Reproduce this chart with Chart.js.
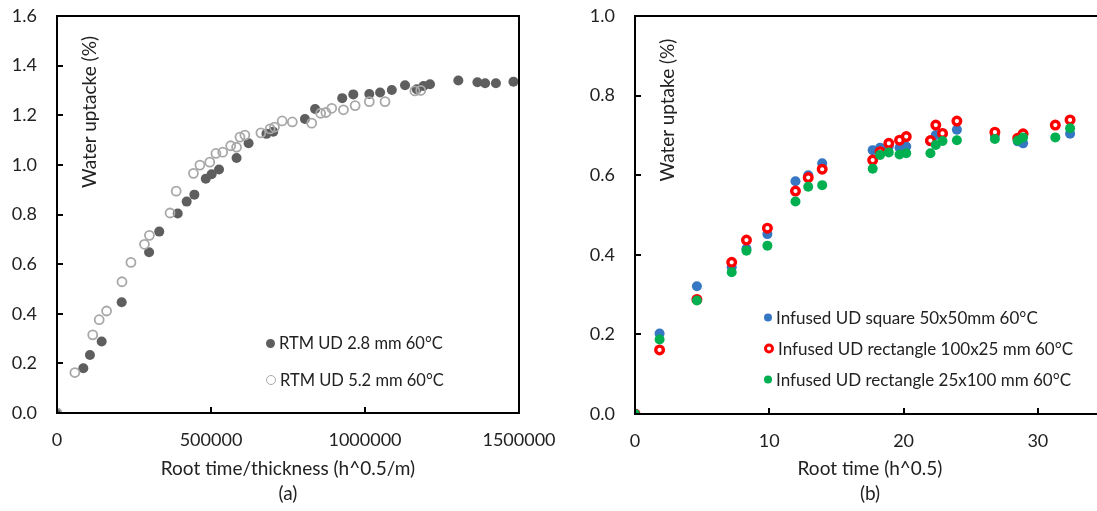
<!DOCTYPE html>
<html>
<head>
<meta charset="utf-8">
<script src="https://cdn.jsdelivr.net/npm/chart.js@4.4.1/dist/chart.umd.min.js"></script>
<style>
  html, body { margin: 0; padding: 0; background: #fff; }
  #wrap { position: relative; width: 1097px; height: 511px; overflow: hidden; font-family: Lato, "Open Sans", sans-serif; color: #222; }
  canvas { position: absolute; top: 0; z-index: 1; }
  .box { position: absolute; box-sizing: border-box; border: 2px solid #000; z-index: 5; pointer-events: none; }
  .tk { position: absolute; background: #000; z-index: 5; }
  .ytitle { position: absolute; transform: translate(-50%, -50%) rotate(-90deg); white-space: nowrap; font-size: 19px; z-index: 6; }
  .legend { position: absolute; font-size: 16.5px; z-index: 6; }
  .legend .row { display: flex; align-items: center; white-space: nowrap; position: absolute; left: 0; transform: translateY(-50%); }
  .mk { display: inline-block; border-radius: 50%; box-sizing: border-box; margin-right: 4px; }
</style>
</head>
<body>
<div id="wrap">
  <canvas id="chartA" width="560" height="511" style="left:0"></canvas>
  <canvas id="chartB" width="560" height="511" style="left:560px"></canvas>
  <div class="ytitle" style="left:88px; top:112px">Water uptacke (%)</div>
  <div class="ytitle" style="left:666px; top:110px">Water uptake (%)</div>
  <div class="legend" id="legendA" style="left:266px; top:0"></div>
  <div class="legend" id="legendB" style="left:764px; top:0; font-size:17px"></div>
</div>
<script>
// (a) RTM UD 2.8 mm 60°C
const thinX = [0, 85500, 107000, 145000, 210000, 299000, 332000, 392000, 421000, 446000, 483000, 502000, 526000, 583000, 622000, 680000, 702000, 805000, 838000, 926000, 962000, 1014000, 1049000, 1087000, 1130000, 1168000, 1190000, 1211000, 1303000, 1365000, 1390000, 1425000, 1482000];
const thinY = [0, 0.180, 0.234, 0.288, 0.446, 0.648, 0.731, 0.804, 0.852, 0.880, 0.944, 0.962, 0.981, 1.028, 1.087, 1.125, 1.134, 1.185, 1.225, 1.269, 1.284, 1.286, 1.292, 1.302, 1.321, 1.305, 1.318, 1.325, 1.340, 1.333, 1.329, 1.329, 1.335];

// (a) RTM UD 5.2 mm 60°C
const thickX = [0, 58000, 116000, 137000, 161000, 211000, 240000, 284000, 300000, 367000, 387000, 443000, 464000, 496000, 516000, 538000, 564000, 583000, 594000, 610000, 662000, 692000, 706000, 731000, 764000, 827000, 856000, 873000, 892000, 930000, 968000, 1014000, 1065000, 1162000, 1181000];
const thickY = [0, 0.163, 0.315, 0.376, 0.411, 0.529, 0.607, 0.680, 0.716, 0.806, 0.894, 0.966, 0.999, 1.011, 1.046, 1.051, 1.077, 1.071, 1.112, 1.120, 1.129, 1.145, 1.152, 1.177, 1.173, 1.168, 1.208, 1.211, 1.228, 1.222, 1.239, 1.255, 1.255, 1.298, 1.300];

// (b) root time (h^0.5) and the three infused panels
const rootTime = [0, 1.83, 4.61, 7.2, 8.3, 9.86, 11.95, 12.9, 13.94, 17.7, 18.25, 18.9, 19.7, 20.2, 22.0, 22.4, 22.9, 23.97, 26.8, 28.5, 28.9, 31.3, 32.4];
const squareY = [0, 0.202, 0.321, 0.369, 0.415, 0.452, 0.585, 0.600, 0.630, 0.663, 0.669, 0.672, 0.669, 0.672, 0.685, 0.701, 0.705, 0.714, 0.701, 0.685, 0.680, 0.726, 0.704];
const rect100x25Y = [0, 0.161, 0.288, 0.381, 0.437, 0.467, 0.560, 0.594, 0.615, 0.638, 0.659, 0.680, 0.688, 0.697, 0.687, 0.726, 0.705, 0.736, 0.708, 0.693, 0.704, 0.726, 0.739];
const rect25x100Y = [0, 0.187, 0.285, 0.356, 0.410, 0.423, 0.534, 0.571, 0.575, 0.616, 0.651, 0.657, 0.652, 0.655, 0.655, 0.676, 0.686, 0.688, 0.691, 0.687, 0.695, 0.695, 0.718];

const FONT = "Lato, 'Open Sans', sans-serif";
const TEXT = "#222";
const AXIS_BORDER = { display: true, color: "#000", width: 2 };

function toPoints(xs, ys) {
  return xs.map((x, i) => ({ x: x, y: ys[i] }));
}

// 上と右の枠線用の補助軸
function edgeAxis(position) {
  return {
    type: "linear",
    position: position,
    min: 0,
    max: 1,
    grid: { display: false, drawTicks: false },
    border: AXIS_BORDER,
    ticks: { display: false },
    afterFit: s => {
      if (position === "top") s.height = 0; else s.width = 0;
    }
  };
}

function makeOptions(cfg) {
  const scales = {
    x: {
      type: "linear",
      min: 0,
      max: cfg.xMax,
      grid: { display: false, drawTicks: false },
      border: AXIS_BORDER,
      ticks: {
        stepSize: cfg.xStep,
        padding: 16,
        color: TEXT,
        font: { family: FONT, size: 18 },
        callback: v => (v % cfg.xStep === 0 ? String(v) : null)
      },
      title: {
        display: true,
        text: cfg.xTitle,
        color: TEXT,
        font: { family: FONT, size: 19, lineHeight: 1.35 },
        padding: { top: 0, bottom: 4 }
      },
      afterFit: s => {
        s.height = 511 - cfg.bottom;
        s.paddingLeft = 0;
        s.paddingRight = 0;
      }
    },
    y: {
      min: 0,
      max: cfg.yMax,
      grid: { display: false, drawTicks: false },
      border: AXIS_BORDER,
      ticks: {
        stepSize: 0.2,
        padding: 20,
        color: TEXT,
        font: { family: FONT, size: 18 },
        callback: v => Number(v).toFixed(1)
      },
      afterFit: s => {
        s.width = cfg.left;
        s.paddingTop = 0;
        s.paddingBottom = 0;
      }
    },
    xTop: edgeAxis("top")
  };
  if (cfg.rightBorder) scales.yRight = edgeAxis("right");

  return {
    responsive: false,
    animation: false,
    layout: { padding: { top: 16, right: cfg.padRight, left: 0, bottom: 0 } },
    plugins: {
      legend: { display: false },
      tooltip: { enabled: false }
    },
    scales: scales
  };
}

const datasetsA = [
  {
    label: "RTM UD 2.8 mm 60°C",
    data: toPoints(thinX, thinY),
    pointRadius: 5,
    pointBorderWidth: 0,
    pointBackgroundColor: "#5e5e5e",
    order: 1,
    legendMark: "background:#5e5e5e; width:9px; height:9px"
  },
  {
    label: "RTM UD 5.2 mm 60°C",
    data: toPoints(thickX, thickY),
    pointRadius: 4.5,
    pointBorderWidth: 1.8,
    pointBorderColor: "#a8a8a8",
    pointBackgroundColor: "rgba(255,255,255,0)",
    order: 0,
    legendMark: "border:1.6px solid #a8a8a8; width:10px; height:10px"
  }
];

const datasetsB = [
  {
    label: "Infused UD square 50x50mm 60°C",
    data: toPoints(rootTime, squareY),
    pointRadius: 5,
    pointBorderWidth: 0,
    pointBackgroundColor: "#3577c2",
    order: 2,
    legendMark: "background:#3577c2; width:8px; height:8px"
  },
  {
    label: "Infused UD rectangle 100x25 mm 60°C",
    data: toPoints(rootTime, rect100x25Y),
    pointRadius: 3.8,
    pointBorderWidth: 3.4,
    pointBorderColor: "#ff0000",
    pointBackgroundColor: "#ffffff",
    order: 1,
    legendMark: "border:3px solid #ff0000; width:10px; height:10px"
  },
  {
    label: "Infused UD rectangle 25x100 mm 60°C",
    data: toPoints(rootTime, rect25x100Y),
    pointRadius: 5,
    pointBorderWidth: 0,
    pointBackgroundColor: "#00b050",
    order: 0,
    legendMark: "background:#00b050; width:8px; height:8px"
  }
];

const chartA = new Chart(document.getElementById("chartA"), {
  type: "scatter",
  data: { datasets: datasetsA },
  options: makeOptions({
    left: 57, padRight: 41, bottom: 413, xMax: 1500000, xStep: 500000, yMax: 1.6, rightBorder: true,
    xTitle: ["Root time/thickness (h^0.5/m)", "(a)"]
  })
});

const chartB = new Chart(document.getElementById("chartB"), {
  type: "scatter",
  data: { datasets: datasetsB },
  options: makeOptions({
    left: 75, padRight: 15, bottom: 414, xMax: 35, xStep: 10, yMax: 1.0, rightBorder: false,
    xTitle: ["Root time (h^0.5)", "(b)"]
  })
});

// 枠（CSSの罫線）と内向きの目盛り、位置はチャートの軸から取る
function addEl(cls, x, y, w, h) {
  const d = document.createElement("div");
  d.className = cls;
  d.style.left = x + "px";
  d.style.top = y + "px";
  d.style.width = w + "px";
  d.style.height = h + "px";
  document.getElementById("wrap").appendChild(d);
  return d;
}

function drawFrame(chart, offsetX, withRight) {
  const a = chart.chartArea;
  const sx = chart.scales.x, sy = chart.scales.y;
  const L = Math.round(a.left) + offsetX, R = Math.round(a.right) + offsetX;
  const T = Math.round(a.top), B = Math.round(a.bottom);
  const w = withRight ? R - L + 2 : R - L + 20;
  const box = addEl("box", L - 1, T - 1, w, B - T + 2);
  if (!withRight) box.style.borderRight = "none";
  sx.ticks.forEach(t => {
    const px = Math.round(sx.getPixelForValue(t.value)) + offsetX;
    if (px <= L + 2 || px >= R - 2) return;
    addEl("tk", px - 1, B - 6, 2, 6);
  });
  sy.ticks.forEach(t => {
    const py = Math.round(sy.getPixelForValue(t.value));
    if (py >= B - 2 || py <= T + 2) return;
    addEl("tk", L, py - 1, 6, 2);
  });
}

drawFrame(chartA, 0, true);
drawFrame(chartB, 560, false);

// 凡例（HTML）
function buildLegend(id, datasets, rowsY) {
  const box = document.getElementById(id);
  datasets.forEach((ds, i) => {
    const row = document.createElement("div");
    row.className = "row";
    row.style.top = rowsY[i] + "px";
    const mk = document.createElement("span");
    mk.className = "mk";
    mk.style.cssText += ds.legendMark;
    row.appendChild(mk);
    row.appendChild(document.createTextNode(ds.label));
    box.appendChild(row);
  });
}

buildLegend("legendA", datasetsA, [343, 380]);
buildLegend("legendB", datasetsB, [317, 348, 379]);
</script>
</body>
</html>
